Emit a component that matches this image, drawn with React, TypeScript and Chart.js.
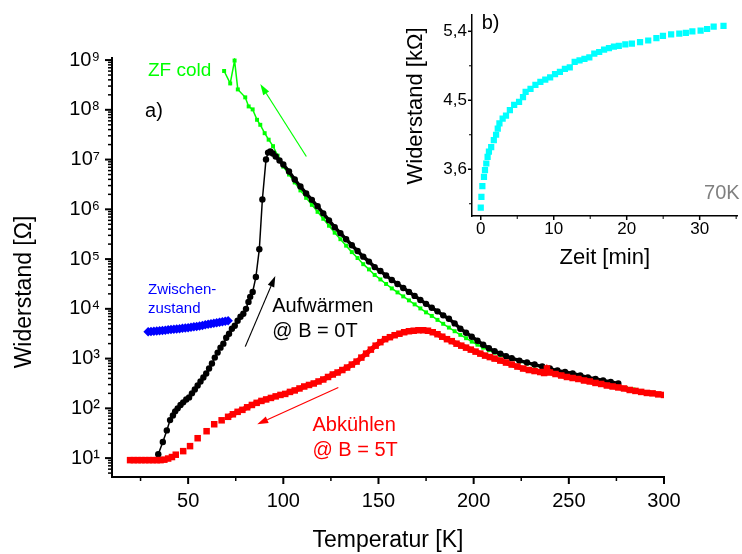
import React, { useEffect, useRef } from 'react';
import { Chart, registerables } from 'chart.js';

Chart.register(...registerables);

const FONT = "'Liberation Sans', Arial, Helvetica, sans-serif";

// ---------- main chart data (T in K, R in Ohm) ----------
// "ZF cold" (green)
const zfColdT = [68.9, 72.1, 74.4, 76.1, 80, 81.8, 83.9, 86.2, 87.9, 90.2, 92.3, 94.6, 97, 100,
  103, 106, 109, 112, 115, 118, 121, 124, 127, 130, 133, 136, 139, 142, 145, 148, 151, 154, 157, 160,
  163, 166, 169, 172, 175, 178, 181, 184, 187, 190, 193, 196, 199, 202, 205, 208, 211, 214, 217, 220,
  224, 228, 232, 236, 240, 244, 248, 252, 256, 260, 264, 268, 272, 276, 280, 284, 288, 292, 296, 300];
const zfColdR = [6.03e8, 3.39e8, 9.77e8, 2.57e8, 1.78e8, 1.17e8, 1.02e8, 6.3e7, 5.0e7, 3.39e7, 2.51e7, 1.86e7, 1.2e7, 7.2e6,
  5.0e6, 3.47e6, 2.4e6, 1.7e6, 1.23e6, 8.9e5, 6.46e5, 4.68e5, 3.39e5, 2.51e5, 1.86e5, 1.38e5, 1.05e5, 7.9e4, 6.2e4, 4.8e4, 3.9e4, 3.16e4, 2.57e4, 2.14e4,
  1.78e4, 1.48e4, 1.23e4, 1.02e4, 8.5e3, 7.2e3, 6.0e3, 5.0e3, 4.2e3, 3.55e3, 3.0e3, 2.57e3, 2.19e3, 1.9e3, 1.66e3, 1.48e3, 1.32e3, 1.17e3, 1.07e3, 977,
  871, 794, 724, 661, 603, 550, 501, 468, 427, 389, 355, 331, 302, 282, 257, 240, 224, 209, 195, 182];

// "Aufwärmen @ B = 0T" (black)
const aufwaermenT = [34.3, 36.7, 38.8, 40.5, 42, 43.2, 44.5, 46, 47.4, 49, 50.5, 52, 53.5, 55, 56.5, 58, 59.5, 61, 62.5, 64,
  65.5, 67, 68.5, 70, 71.5, 73, 74.5, 76, 77.5, 79, 80.4, 81.7, 82.6, 83.9, 85.6, 87.4, 89, 90.9, 92, 93.2,
  94.5, 96, 98, 100, 103, 106, 109, 112, 115, 118, 121, 124, 127, 130, 133, 136, 139, 142, 145, 148,
  151, 154, 157, 160, 163, 166, 169, 172, 175, 178, 181, 184, 187, 190, 193, 196, 199, 202, 205, 208,
  211, 214, 217, 220, 224, 228, 232, 236, 240, 244, 248, 252, 256, 260, 264, 268, 272, 276];
const aufwaermenR = [12, 21, 36, 58, 72, 87, 100, 117, 132, 151, 166, 200, 240, 288, 347, 417, 501, 631, 794, 1047,
  1318, 1660, 1995, 2630, 3162, 3981, 4571, 5754, 6918, 7943, 1.0e4, 1.38e4, 1.74e4, 2.19e4, 4.37e4, 1.58e5, 1.58e6, 1.0e7, 1.38e7, 1.45e7,
  1.32e7, 1.15e7, 9.55e6, 7.94e6, 5.75e6, 3.98e6, 2.88e6, 2.09e6, 1.55e6, 1.15e6, 8.3e5, 6.0e5, 4.37e5, 3.31e5, 2.51e5, 1.9e5, 1.45e5, 1.12e5, 8.9e4, 6.9e4,
  5.75e4, 4.68e4, 3.8e4, 3.16e4, 2.63e4, 2.19e4, 1.82e4, 1.51e4, 1.26e4, 1.05e4, 8.9e3, 7.4e3, 6.3e3, 5.1e3, 3.98e3, 3.31e3, 2.75e3, 2.29e3, 1.9e3, 1.62e3,
  1.41e3, 1.26e3, 1.12e3, 1.02e3, 912, 832, 759, 692, 631, 575, 537, 501, 457, 417, 389, 363, 339, 316];

// "Abkühlen @ B = 5T" (red)
const abkuehlenT = [19.5, 21.5, 23.5, 25.5, 27.5, 29.5, 31.5, 33.5, 35.5, 37.5, 39.5, 41.5, 43.5, 47.4, 51, 55, 59.7, 63.7, 67.6, 71,
  73.5, 76, 78.5, 81, 83.5, 86, 88.5, 91, 93.5, 96, 98.5, 101, 103.5, 106, 108.5, 111, 113.5, 116, 118.5, 121,
  123.5, 126, 128.5, 131, 133.5, 136, 138.5, 141, 143.5, 146, 148.5, 151, 153.5, 156, 158.5, 161, 163.5, 166, 168.5, 171,
  173.5, 176, 178.5, 181, 183.5, 186, 188.5, 191, 193.5, 196, 198.5, 201, 203.5, 206, 208.5, 211,
  214, 217, 220, 223, 226, 229, 232, 235, 237, 238.5,
  240, 243, 246, 249, 252, 255, 258, 261, 264, 267, 270, 273, 276, 279, 282, 285, 288, 291, 294, 297, 300];
const abkuehlenR = [9.1, 9.1, 9.1, 9.1, 9.1, 9.1, 9.1, 9.1, 9.1, 9.3, 9.8, 10.5, 11.7, 13.8, 17.4, 25.1, 34.7, 47.9, 57.5, 67.6,
  75.9, 85.1, 93.3, 105, 117, 129, 141, 151, 162, 174, 186, 195, 214, 229, 251, 275, 295, 316, 347, 380,
  427, 479, 525, 589, 661, 759, 871, 1047, 1259, 1514, 1820, 2138, 2455, 2692, 2951, 3162, 3388, 3548, 3631, 3715,
  3715, 3631, 3388, 3090, 2754, 2455, 2239, 1995, 1820, 1660, 1514, 1380, 1259, 1148, 1072, 1000,
  912, 832, 759, 692, 631, 589, 562, 537, 513, 631,
  525, 490, 457, 427, 407, 389, 363, 347, 324, 309, 288, 275, 263, 251, 234, 224, 214, 204, 200, 191, 186];

// "Zwischenzustand" (blue)
const zwischenT = [29, 30.5, 32, 33.5, 35, 36.5, 38, 39.5, 41, 42.5, 44, 45.5, 47, 48.5, 50, 51.5, 53, 54.5, 56, 57.5,
  59, 60.5, 62, 63.5, 65, 66.5, 68, 69.5, 71];
const zwischenR = [3467, 3508, 3548, 3589, 3631, 3673, 3715, 3802, 3846, 3890, 3936, 3981, 4074, 4121, 4169, 4266, 4365, 4416, 4519, 4624,
  4786, 4898, 5012, 5129, 5248, 5370, 5495, 5623, 5754];

// ---------- inset data (t in min, R in kOhm) ----------
const insetTime = [0, 0.09, 0.22, 0.44, 0.58, 0.76, 0.94, 1.12, 1.43, 1.79, 2.1, 2.33, 2.56, 3.0, 3.46, 3.99, 4.58, 5.25, 5.79, 6.15,
  6.82, 7.49, 8.17, 8.84, 9.51, 10.18, 10.85, 11.53, 12.2, 12.87, 13.54, 14.21, 14.88, 15.56, 16.23, 16.9, 17.57, 18.25, 18.92, 19.81,
  20.71, 21.83, 22.95, 24.07, 24.97, 26.09, 27.21, 28.11, 29.0, 30.13, 31.02, 31.92, 33.27];
const insetR = [3.10, 3.24, 3.38, 3.50, 3.59, 3.675, 3.76, 3.83, 3.89, 3.98, 4.05, 4.13, 4.20, 4.26, 4.30, 4.37, 4.44, 4.48, 4.54, 4.61,
  4.65, 4.70, 4.74, 4.77, 4.80, 4.84, 4.87, 4.91, 4.93, 5.0, 5.02, 5.04, 5.06, 5.11, 5.13, 5.16, 5.18, 5.20, 5.21, 5.23,
  5.24, 5.26, 5.28, 5.31, 5.34, 5.36, 5.37, 5.38, 5.40, 5.41, 5.43, 5.46, 5.47];

// ---------- ticks ----------
const mainXMajor = [50, 100, 150, 200, 250, 300];
const mainXMinor = [25, 75, 125, 175, 225, 275];
const decadeValues = [10, 100, 1e3, 1e4, 1e5, 1e6, 1e7, 1e8, 1e9];
const decadeLabels = ['10¹', '10²', '10³', '10⁴', '10⁵', '10⁶', '10⁷', '10⁸', '10⁹'];
const minorMultipliers = [2, 3, 4, 5, 6, 7, 8, 9];
const insetXMajor = [0, 10, 20, 30];
const insetXMinor = [5, 15, 25, 35];
const insetYMajor = [3.6, 4.5, 5.4];
const insetYMajorLabels = ['3,6', '4,5', '5,4'];
const insetYMinor = [3.15, 4.05, 4.95];

const MAIN_Y_MIN = 4.17;
const MAIN_Y_MAX = 1.1e9;

// ---------- annotations ----------
const mainTexts = [
  { text: 'ZF cold', x: 28.9, y: 6.0e8, color: '#00ff00', size: 19 },
  { text: 'a)', x: 27.4, y: 9.1e7, color: '#000000', size: 20 },
  { text: 'Zwischen-', x: 28.9, y: 2.4e4, color: '#0000ff', size: 15 },
  { text: 'zustand', x: 28.9, y: 1.02e4, color: '#0000ff', size: 15 },
  { text: 'Aufwärmen', x: 94.2, y: 1.12e4, color: '#000000', size: 20 },
  { text: '@ B = 0T', x: 94.2, y: 3467, color: '#000000', size: 20 },
  { text: 'Abkühlen', x: 115.3, y: 45.7, color: '#ff0000', size: 20 },
  { text: '@ B = 5T', x: 115.3, y: 14.5, color: '#ff0000', size: 20 },
];
const mainArrows = [
  { from: [112.1, 1.15e7], to: [87.9, 3.3e8], color: '#00ff00' },
  { from: [80, 1740], to: [95.8, 4.57e4], color: '#000000' },
  { from: [128.9, 263], to: [86.3, 47.9], color: '#ff0000' },
];
const insetTexts = [
  { text: 'b)', x: 0.13, y: 5.5, color: '#000000', size: 20 },
  { text: '70K', x: 30.6, y: 3.29, color: '#808080', size: 20 },
];

function toPoints(xs: number[], ys: number[]) {
  return xs.map((x, i) => ({ x, y: ys[i] }));
}

function makeTickPlugin(id: string, majorLen: number, minorLen: number, majorW: number, minorW: number) {
  return {
    id,
    afterDraw(chart: any) {
      const ctx = chart.ctx;
      const xs = chart.scales.x;
      const ys = chart.scales.y;
      ctx.save();
      ctx.strokeStyle = '#000';
      xs.ticks.forEach((t: any) => {
        const p = xs.getPixelForValue(t.value);
        ctx.lineWidth = t.major ? majorW : minorW;
        ctx.beginPath();
        ctx.moveTo(p, xs.top);
        ctx.lineTo(p, xs.top + (t.major ? majorLen : minorLen));
        ctx.stroke();
      });
      ys.ticks.forEach((t: any) => {
        const p = ys.getPixelForValue(t.value);
        ctx.lineWidth = t.major ? majorW : minorW;
        ctx.beginPath();
        ctx.moveTo(ys.right, p);
        ctx.lineTo(ys.right - (t.major ? majorLen : minorLen), p);
        ctx.stroke();
      });
      ctx.restore();
    },
  };
}

function makeAnnotPlugin(id: string, texts: any[], arrows: any[], yTitle: { text: string; x: number; y: number; size: number }) {
  return {
    id,
    afterDraw(chart: any) {
      const ctx = chart.ctx;
      const xs = chart.scales.x;
      const ys = chart.scales.y;
      ctx.save();
      arrows.forEach((a) => {
        const x1 = xs.getPixelForValue(a.from[0]);
        const y1 = ys.getPixelForValue(a.from[1]);
        const x2 = xs.getPixelForValue(a.to[0]);
        const y2 = ys.getPixelForValue(a.to[1]);
        const ang = Math.atan2(y2 - y1, x2 - x1);
        const hl = 11;
        const hw = 3.5;
        const bx = x2 - hl * Math.cos(ang);
        const by = y2 - hl * Math.sin(ang);
        ctx.strokeStyle = a.color;
        ctx.fillStyle = a.color;
        ctx.lineWidth = 1.2;
        ctx.beginPath();
        ctx.moveTo(x1, y1);
        ctx.lineTo(bx, by);
        ctx.stroke();
        ctx.beginPath();
        ctx.moveTo(x2, y2);
        ctx.lineTo(bx + hw * Math.sin(ang), by - hw * Math.cos(ang));
        ctx.lineTo(bx - hw * Math.sin(ang), by + hw * Math.cos(ang));
        ctx.closePath();
        ctx.fill();
      });
      ctx.textAlign = 'left';
      ctx.textBaseline = 'middle';
      texts.forEach((t) => {
        ctx.font = `${t.size}px ${FONT}`;
        ctx.fillStyle = t.color;
        ctx.fillText(t.text, xs.getPixelForValue(t.x), ys.getPixelForValue(t.y));
      });
      ctx.translate(yTitle.x, yTitle.y);
      ctx.rotate(-Math.PI / 2);
      ctx.textAlign = 'center';
      ctx.fillStyle = '#000';
      ctx.font = `${yTitle.size}px ${FONT}`;
      ctx.fillText(yTitle.text, 0, 0);
      ctx.restore();
    },
  };
}

export default function App() {
  const mainRef = useRef<HTMLCanvasElement>(null);
  const insetRef = useRef<HTMLCanvasElement>(null);

  useEffect(() => {
    Chart.defaults.font.family = FONT;
    Chart.defaults.color = '#000';

    const main = new Chart(mainRef.current as HTMLCanvasElement, {
      type: 'line',
      data: {
        datasets: [
          {
            label: 'Abkühlen @ B = 5T',
            data: toPoints(abkuehlenT, abkuehlenR),
            showLine: true,
            borderWidth: 5,
            borderColor: '#ff0000',
            segment: {
              borderColor: (c: any) => (c.p0.parsed.x >= 70 ? '#ff0000' : 'rgba(255,0,0,0)'),
            },
            pointStyle: 'rect',
            pointRadius: 4.6,
            pointBackgroundColor: '#ff0000',
            pointBorderWidth: 0,
            tension: 0,
          },
          {
            label: 'Aufwärmen @ B = 0T',
            data: toPoints(aufwaermenT, aufwaermenR),
            borderColor: '#000000',
            borderWidth: 1.5,
            segment: {
              borderWidth: (c: any) => (c.p0.parsed.x >= 93 ? 3.4 : 1.5),
            },
            pointStyle: 'circle',
            pointRadius: 3.2,
            pointBackgroundColor: '#000000',
            pointBorderWidth: 0,
            tension: 0,
          },
          {
            label: 'Zwischenzustand',
            data: toPoints(zwischenT, zwischenR),
            showLine: false,
            pointStyle: 'rectRot',
            pointRadius: 4.8,
            pointBackgroundColor: '#0000ff',
            pointBorderWidth: 0,
            borderColor: '#0000ff',
          },
          {
            label: 'ZF cold',
            data: toPoints(zfColdT, zfColdR),
            borderColor: '#00ff00',
            borderWidth: 1.5,
            pointStyle: 'rect',
            pointRadius: 2.8,
            pointBackgroundColor: '#00ff00',
            pointBorderWidth: 0,
            tension: 0,
          },
        ],
      },
      options: {
        responsive: false,
        animation: false,
        devicePixelRatio: 1,
        events: [],
        layout: { padding: { left: 0, right: 78, top: 58, bottom: 0 } },
        plugins: { legend: { display: false }, tooltip: { enabled: false } },
        scales: {
          x: {
            type: 'linear',
            position: 'bottom',
            min: 10,
            max: 300,
            bounds: 'data',
            grid: { display: true, drawOnChartArea: false, drawTicks: false },
            border: { display: true, color: '#000', width: 2 },
            ticks: {
              autoSkip: false,
              maxRotation: 0,
              padding: 12,
              color: '#000',
              font: { size: 20, family: FONT },
              callback: (v: any) => (mainXMajor.indexOf(v) >= 0 ? String(v) : ''),
            },
            afterBuildTicks: (s: any) => {
              const t = [
                ...mainXMajor.map((v) => ({ value: v, major: true })),
                ...mainXMinor.map((v) => ({ value: v, major: false })),
              ];
              t.sort((a, b) => a.value - b.value);
              s.ticks = t;
            },
            afterFit: (s: any) => {
              s.height = 77;
            },
            title: {
              display: true,
              text: 'Temperatur [K]',
              color: '#000',
              font: { size: 23, family: FONT },
              padding: { top: 0, bottom: 0 },
            },
          },
          y: {
            type: 'logarithmic',
            position: 'left',
            min: MAIN_Y_MIN,
            max: MAIN_Y_MAX,
            bounds: 'data',
            grid: { display: true, drawOnChartArea: false, drawTicks: false },
            border: { display: true, color: '#000', width: 2 },
            ticks: {
              autoSkip: false,
              padding: 12,
              color: '#000',
              font: { size: 20, family: FONT },
              callback: (v: any) => {
                const i = decadeValues.indexOf(v);
                return i >= 0 ? decadeLabels[i] : '';
              },
            },
            afterBuildTicks: (s: any) => {
              const t: { value: number; major: boolean }[] = [];
              [1, ...decadeValues].forEach((d) => {
                if (d >= MAIN_Y_MIN && d <= MAIN_Y_MAX) t.push({ value: d, major: true });
                minorMultipliers.forEach((m) => {
                  const v = d * m;
                  if (v >= MAIN_Y_MIN && v <= MAIN_Y_MAX) t.push({ value: v, major: false });
                });
              });
              t.sort((a, b) => a.value - b.value);
              s.ticks = t;
            },
            afterFit: (s: any) => {
              s.width = 112;
            },
          },
        },
      } as any,
      plugins: [
        makeTickPlugin('mainTicks', 7, 4, 2, 1.5),
        makeAnnotPlugin('mainAnnot', mainTexts, mainArrows, { text: 'Widerstand [Ω]', x: 25, y: 292, size: 23 }),
      ],
    } as any);

    const inset = new Chart(insetRef.current as HTMLCanvasElement, {
      type: 'line',
      data: {
        datasets: [
          {
            label: '70K',
            data: toPoints(insetTime, insetR),
            showLine: false,
            pointStyle: 'rect',
            pointRadius: 4.4,
            pointBackgroundColor: '#00ffff',
            pointBorderWidth: 0,
            borderColor: '#00ffff',
          },
        ],
      },
      options: {
        responsive: false,
        animation: false,
        devicePixelRatio: 1,
        events: [],
        layout: { padding: { left: 0, right: 0, top: 15, bottom: 0 } },
        plugins: { legend: { display: false }, tooltip: { enabled: false } },
        scales: {
          x: {
            type: 'linear',
            position: 'bottom',
            min: -1.2,
            max: 35.2,
            bounds: 'data',
            grid: { display: true, drawOnChartArea: false, drawTicks: false },
            border: { display: true, color: '#000', width: 1.5 },
            ticks: {
              autoSkip: false,
              maxRotation: 0,
              padding: 3,
              color: '#000',
              font: { size: 17, family: FONT },
              callback: (v: any) => (insetXMajor.indexOf(v) >= 0 ? String(v) : ''),
            },
            afterBuildTicks: (s: any) => {
              const t = [
                ...insetXMajor.map((v) => ({ value: v, major: true })),
                ...insetXMinor.map((v) => ({ value: v, major: false })),
              ];
              t.sort((a, b) => a.value - b.value);
              s.ticks = t;
            },
            afterFit: (s: any) => {
              s.height = 64;
            },
            title: {
              display: true,
              text: 'Zeit [min]',
              color: '#000',
              font: { size: 22, family: FONT },
              padding: { top: 0, bottom: 9 },
            },
          },
          y: {
            type: 'linear',
            position: 'left',
            min: 2.99,
            max: 5.61,
            bounds: 'data',
            grid: { display: true, drawOnChartArea: false, drawTicks: false },
            border: { display: true, color: '#000', width: 1.5 },
            ticks: {
              autoSkip: false,
              padding: 5,
              color: '#000',
              font: { size: 17, family: FONT },
              callback: (v: any) => {
                const i = insetYMajor.indexOf(v);
                return i >= 0 ? insetYMajorLabels[i] : '';
              },
            },
            afterBuildTicks: (s: any) => {
              const t = [
                ...insetYMajor.map((v) => ({ value: v, major: true })),
                ...insetYMinor.map((v) => ({ value: v, major: false })),
              ];
              t.sort((a, b) => a.value - b.value);
              s.ticks = t;
            },
            afterFit: (s: any) => {
              s.width = 72;
            },
          },
        },
      } as any,
      plugins: [
        makeTickPlugin('insetTicks', 4, 3, 1.5, 1),
        makeAnnotPlugin('insetAnnot', insetTexts, [], { text: 'Widerstand [kΩ]', x: 16, y: 106, size: 22 }),
      ],
    } as any);

    return () => {
      main.destroy();
      inset.destroy();
    };
  }, []);

  return (
    <div style={{ position: 'fixed', left: 0, top: 0, width: 742, height: 554, background: '#fff' }}>
      <canvas
        ref={mainRef}
        width={742}
        height={554}
        style={{ position: 'absolute', left: 0, top: 0, width: 742, height: 554 }}
      />
      <canvas
        ref={insetRef}
        width={342}
        height={280}
        style={{ position: 'absolute', left: 400, top: 0, width: 342, height: 280 }}
      />
    </div>
  );
}
